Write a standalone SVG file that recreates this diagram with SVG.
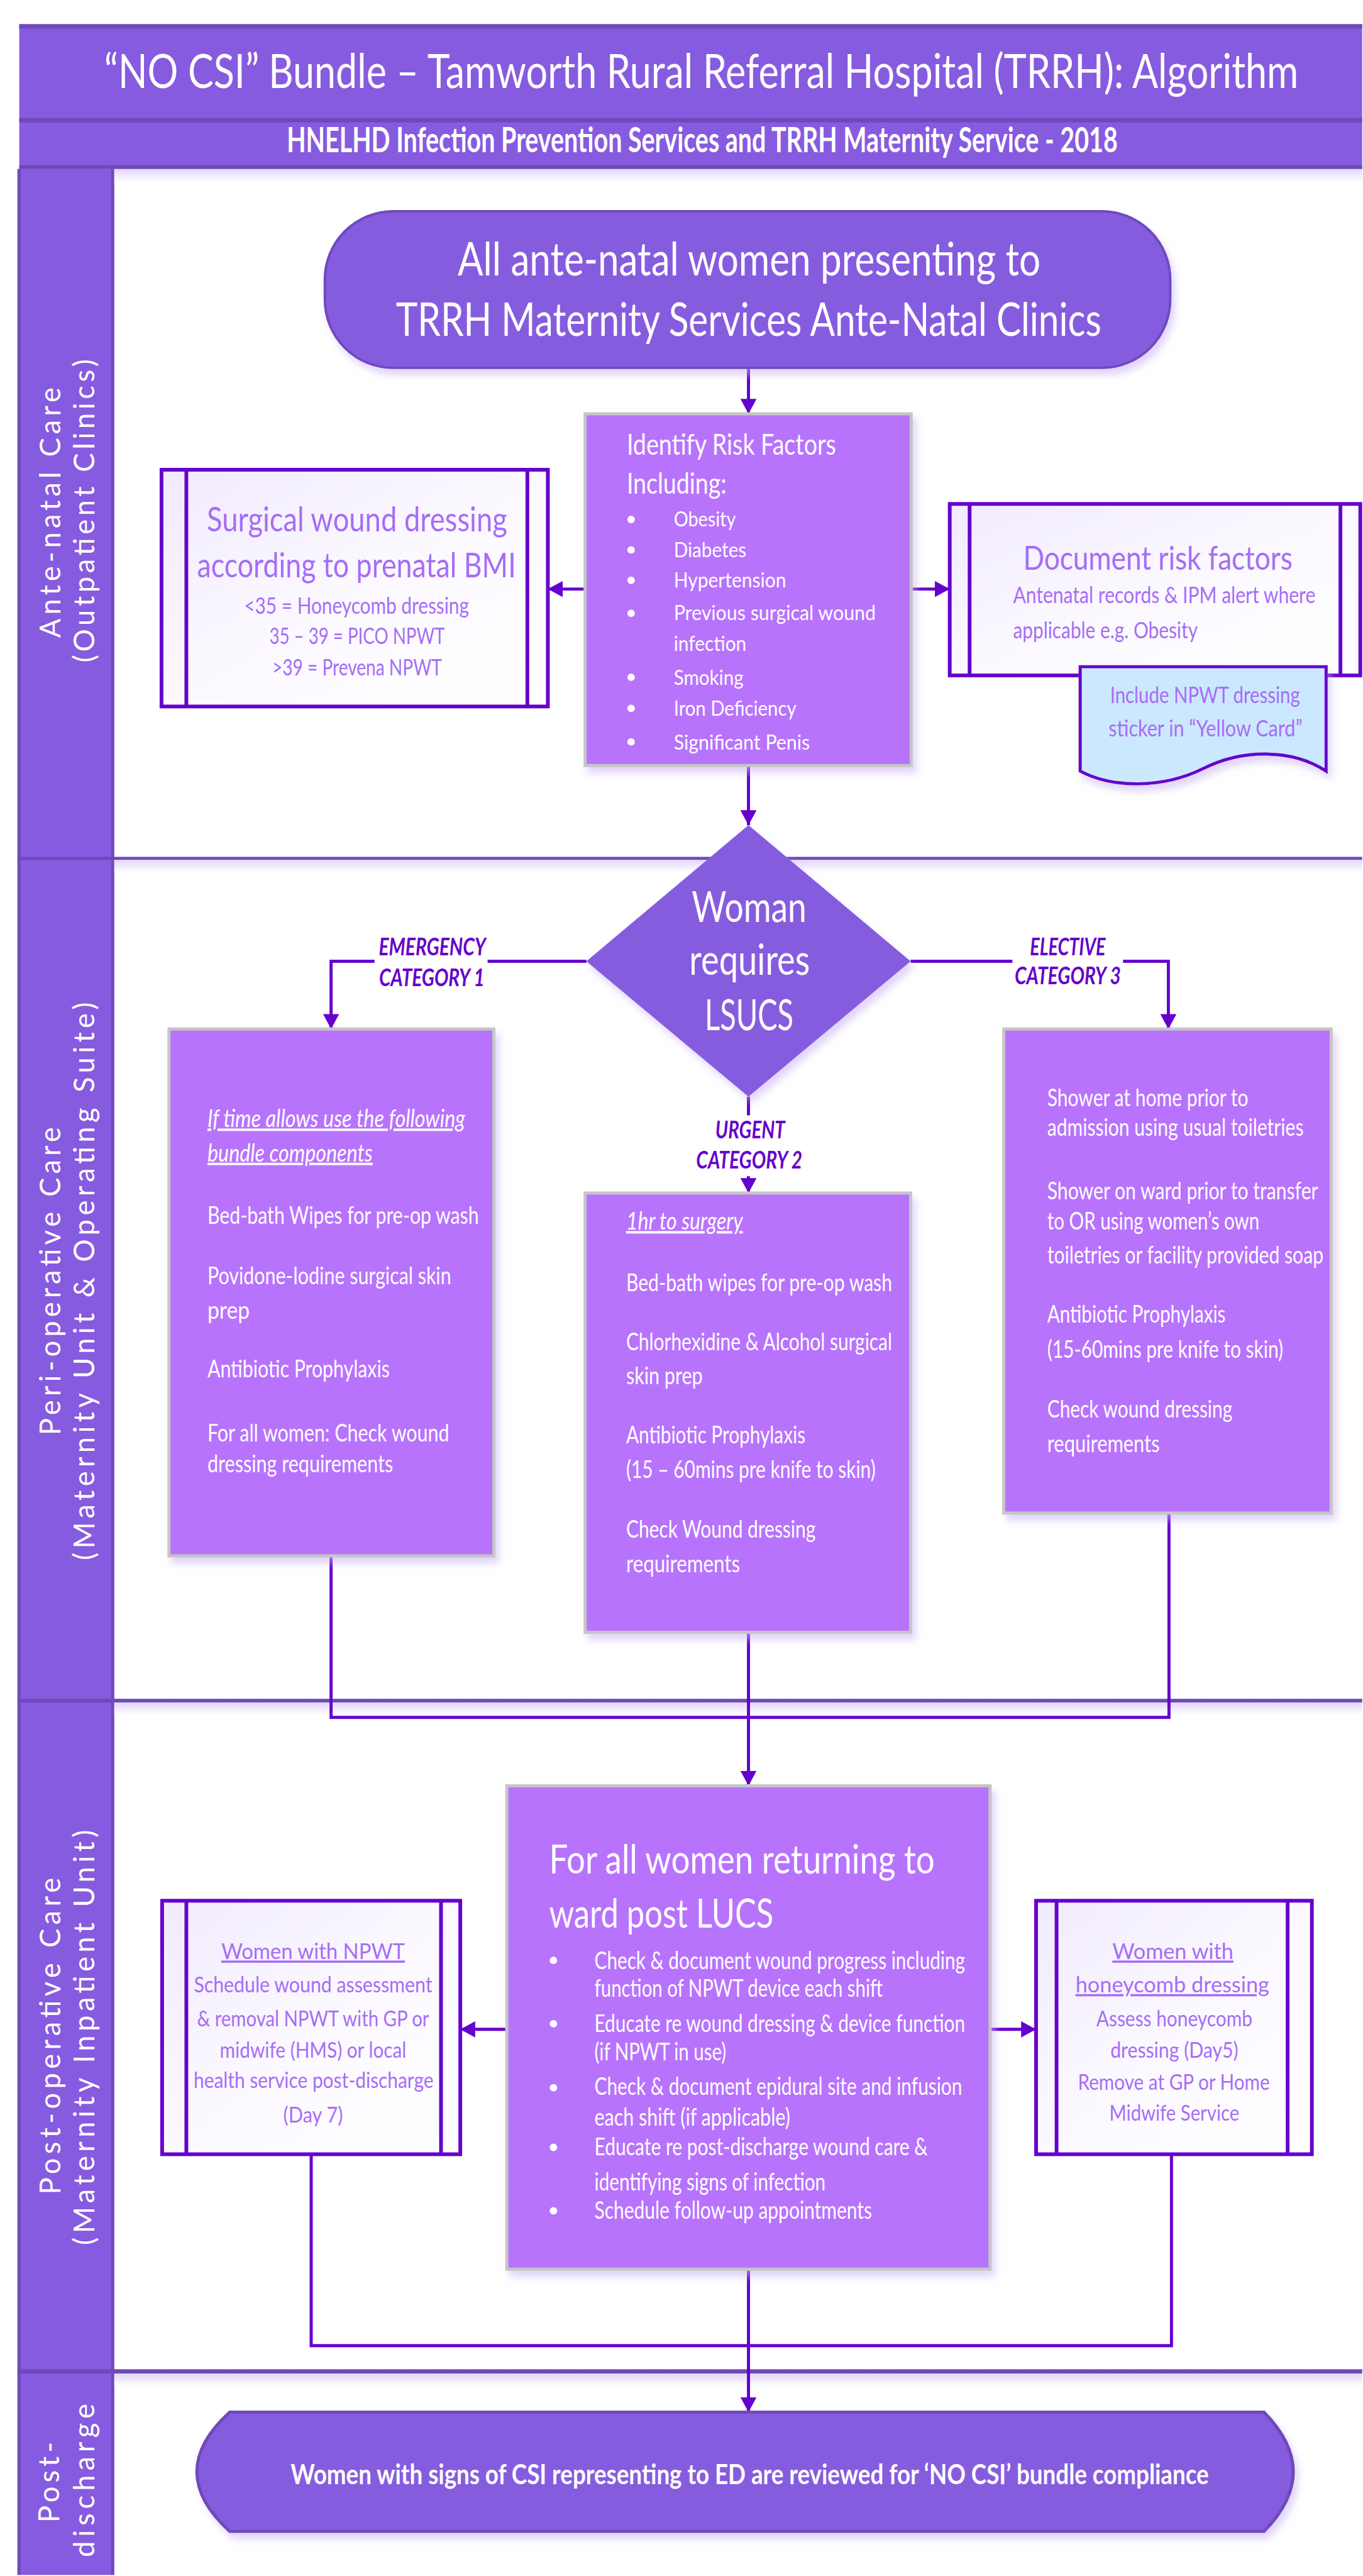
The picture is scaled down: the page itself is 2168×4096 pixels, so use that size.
<svg xmlns="http://www.w3.org/2000/svg" width="2168" height="4096" viewBox="0 0 2168 4096">
<style>
text{font-family:Lato,"Open Sans","Liberation Sans",sans-serif}
.w{fill:#ffffff}
.p{fill:#A66DF7}
.lab{fill:#6600CC;font-weight:700;font-style:italic;font-size:38px}
.lane{fill:#ffffff;font-size:46px}
.proc{fill:#B873FD;stroke:#C6C6C6;stroke-width:5}
.sub{fill:url(#subg);stroke:#6600CC;stroke-width:6}
.subl{stroke:#6600CC;stroke-width:6}
.con{fill:none;stroke:#6600CC;stroke-width:5}
.div{fill:#6F49B8}
.hdr{fill:#865BDF}
.u{text-decoration:underline}
</style>
<defs>
<marker id="arr" viewBox="0 0 24 26" refX="24" refY="13" markerWidth="24" markerHeight="26" markerUnits="userSpaceOnUse" orient="auto"><path d="M0,0 L24,13 L0,26 Z" fill="#6600CC"/></marker>
<linearGradient id="subg" x1="0" y1="0" x2="1" y2="1"><stop offset="0" stop-color="#F1EAFD"/><stop offset="0.5" stop-color="#FBF9FF"/><stop offset="1" stop-color="#FFFFFF"/></linearGradient>
<linearGradient id="shd" x1="0" y1="0" x2="0" y2="1"><stop offset="0" stop-color="#E3D6FB"/><stop offset="1" stop-color="#FFFFFF"/></linearGradient>
<filter id="sh" x="-10%" y="-10%" width="125%" height="125%"><feDropShadow dx="6" dy="10" stdDeviation="6" flood-color="#C9B3F5" flood-opacity="0.55"/></filter>
</defs>
<g transform="scale(0.988)">
<rect x="0" y="0" width="2193" height="4144" fill="#ffffff"/>

<g id="frame">
<rect class="hdr" x="31" y="39" width="2162" height="233"/>
<rect class="div" x="31" y="39" width="2162" height="7"/>
<rect class="div" x="31" y="190" width="2162" height="7"/>
<rect class="div" x="31" y="266" width="2162" height="6"/>
<g transform="matrix(0.78,0,0,1,1129,0)" text-anchor="middle" class="w">
<text x="0" y="142" font-size="77" textLength="2465" lengthAdjust="spacingAndGlyphs">“NO CSI” Bundle – Tamworth Rural Referral Hospital (TRRH): Algorithm</text>
<text x="2" y="245" font-size="56" font-weight="700" textLength="1715" lengthAdjust="spacingAndGlyphs">HNELHD Infection Prevention Services and TRRH Maternity Service - 2018</text>
</g>
</g>

<g id="lanes">
<rect class="hdr" x="31" y="272" width="152" height="3872"/>
<rect class="div" x="28" y="272" width="5" height="3872"/>
<rect class="div" x="179" y="272" width="5" height="3872"/>
<rect x="184" y="272" width="2009" height="22" fill="url(#shd)"/>
<rect class="div" x="31" y="1379" width="2162" height="5"/>
<rect x="184" y="1384" width="2009" height="20" fill="url(#shd)"/>
<rect class="div" x="31" y="2734" width="2162" height="6"/>
<rect x="184" y="2740" width="2009" height="20" fill="url(#shd)"/>
<rect class="div" x="31" y="3813" width="2162" height="7"/>
<rect x="184" y="3820" width="2009" height="20" fill="url(#shd)"/>
<text class="lane" transform="translate(97,825) rotate(-90)" text-anchor="middle" textLength="403" lengthAdjust="spacing">Ante-natal Care</text>
<text class="lane" transform="translate(152,822) rotate(-90)" text-anchor="middle" textLength="488" lengthAdjust="spacing">(Outpatient Clinics)</text>
<text class="lane" transform="translate(97,2062) rotate(-90)" text-anchor="middle" textLength="496" lengthAdjust="spacing">Peri-operative Care</text>
<text class="lane" transform="translate(152,2062) rotate(-90)" text-anchor="middle" textLength="898" lengthAdjust="spacing">(Maternity Unit &amp; Operating Suite)</text>
<text class="lane" transform="translate(97,3277) rotate(-90)" text-anchor="middle" textLength="510" lengthAdjust="spacing">Post-operative Care</text>
<text class="lane" transform="translate(152,3279) rotate(-90)" text-anchor="middle" textLength="668" lengthAdjust="spacing">(Maternity Inpatient Unit)</text>
<text class="lane" transform="translate(95,3995) rotate(-90)" text-anchor="middle" textLength="130" lengthAdjust="spacing">Post-</text>
<text class="lane" transform="translate(152,3992) rotate(-90)" text-anchor="middle" textLength="247" lengthAdjust="spacing">discharge</text>
</g>

<g id="connectors">
<path class="con" d="M1205,592 V666" marker-end="url(#arr)"/>
<path class="con" d="M942,948 H882" marker-end="url(#arr)"/>
<path class="con" d="M1467,948 H1529" marker-end="url(#arr)"/>
<path class="con" d="M1205,1232 V1328" marker-end="url(#arr)"/>
<path class="con" d="M944,1547 H533 V1656" marker-end="url(#arr)"/>
<path class="con" d="M1466,1547 H1881 V1656" marker-end="url(#arr)"/>
<path class="con" d="M1205,1765 V1920" marker-end="url(#arr)"/>
<path class="con" d="M533,2504 V2764 H1882 V2435"/>
<path class="con" d="M1205,2627 V2874" marker-end="url(#arr)"/>
<path class="con" d="M816,3266 H741" marker-end="url(#arr)"/>
<path class="con" d="M1594,3266 H1668" marker-end="url(#arr)"/>
<path class="con" d="M501,3467 V3775 H1886 V3467"/>
<path class="con" d="M1205,3652 V3882" marker-end="url(#arr)"/>
<rect x="603" y="1500" width="182" height="98" fill="#ffffff"/>
<rect x="1630" y="1500" width="178" height="98" fill="#ffffff"/>
<rect x="1116" y="1795" width="180" height="98" fill="#ffffff"/>
<g transform="matrix(0.78,0,0,1,696,0)" text-anchor="middle">
<text class="lab" x="0" y="1537" textLength="221" lengthAdjust="spacingAndGlyphs">EMERGENCY</text>
<text class="lab" x="-1" y="1587" textLength="218" lengthAdjust="spacingAndGlyphs">CATEGORY 1</text>
</g>
<g transform="matrix(0.78,0,0,1,1719,0)" text-anchor="middle">
<text class="lab" x="0" y="1537" textLength="156" lengthAdjust="spacingAndGlyphs">ELECTIVE</text>
<text class="lab" x="0" y="1584" textLength="219" lengthAdjust="spacingAndGlyphs">CATEGORY 3</text>
</g>
<g transform="matrix(0.78,0,0,1,1207,0)" text-anchor="middle">
<text class="lab" x="1" y="1832" textLength="144" lengthAdjust="spacingAndGlyphs">URGENT</text>
<text class="lab" x="-1" y="1881" textLength="219" lengthAdjust="spacingAndGlyphs">CATEGORY 2</text>
</g>
</g>

<g id="start">
<rect x="523" y="340" width="1361" height="252" rx="110" class="hdr" stroke="#7048C0" stroke-width="4" filter="url(#sh)"/>
<g transform="matrix(0.78,0,0,1,1206,0)" text-anchor="middle" class="w" font-size="75">
<text x="0" y="443" textLength="1203" lengthAdjust="spacingAndGlyphs">All ante-natal women presenting to</text>
<text x="-1" y="540" textLength="1456" lengthAdjust="spacingAndGlyphs">TRRH Maternity Services Ante-Natal Clinics</text>
</g>
</g>

<g id="risk">
<rect class="proc" x="942" y="666" width="525" height="566" filter="url(#sh)"/>
<g class="w">
<circle cx="1016" cy="836" r="6"/><circle cx="1016" cy="885" r="6"/><circle cx="1016" cy="934" r="6"/><circle cx="1016" cy="987" r="6"/><circle cx="1016" cy="1090" r="6"/><circle cx="1016" cy="1140" r="6"/><circle cx="1016" cy="1194" r="6"/>
</g>
<g transform="matrix(0.78,0,0,1,1009,0)" class="w">
<text x="0" y="732" font-size="46" textLength="432" lengthAdjust="spacingAndGlyphs">Identify Risk Factors</text>
<text x="0" y="795" font-size="46" textLength="206" lengthAdjust="spacingAndGlyphs">Including:</text>
<g font-size="34">
<text x="97" y="847" textLength="128" lengthAdjust="spacingAndGlyphs">Obesity</text>
<text x="97" y="897" textLength="150" lengthAdjust="spacingAndGlyphs">Diabetes</text>
<text x="97" y="945" textLength="232" lengthAdjust="spacingAndGlyphs">Hypertension</text>
<text x="97" y="998" textLength="417" lengthAdjust="spacingAndGlyphs">Previous surgical wound</text>
<text x="97" y="1048" textLength="150" lengthAdjust="spacingAndGlyphs">infection</text>
<text x="97" y="1102" textLength="144" lengthAdjust="spacingAndGlyphs">Smoking</text>
<text x="97" y="1152" textLength="253" lengthAdjust="spacingAndGlyphs">Iron Deficiency</text>
<text x="97" y="1206" textLength="281" lengthAdjust="spacingAndGlyphs">Significant Penis</text>
</g>
</g>
</g>

<g id="surgical">
<rect class="sub" x="260" y="756" width="622" height="381"/>
<line class="subl" x1="300" y1="756" x2="300" y2="1137"/>
<line class="subl" x1="849" y1="756" x2="849" y2="1137"/>
<g transform="matrix(0.78,0,0,1,574,0)" class="p" text-anchor="middle">
<text x="1" y="855" font-size="54" textLength="620" lengthAdjust="spacingAndGlyphs">Surgical wound dressing</text>
<text x="0" y="929" font-size="54" textLength="658" lengthAdjust="spacingAndGlyphs">according to prenatal BMI</text>
<text x="0" y="988" font-size="38" textLength="464" lengthAdjust="spacingAndGlyphs">&lt;35 = Honeycomb dressing</text>
<text x="1" y="1036" font-size="38" textLength="362" lengthAdjust="spacingAndGlyphs">35 – 39 = PICO NPWT</text>
<text x="1" y="1087" font-size="38" textLength="350" lengthAdjust="spacingAndGlyphs">&gt;39 = Prevena NPWT</text>
</g>
</g>

<g id="document">
<rect class="sub" x="1529" y="811" width="661" height="276"/>
<line class="subl" x1="1561" y1="811" x2="1561" y2="1087"/>
<line class="subl" x1="2158" y1="811" x2="2158" y2="1087"/>
<g transform="matrix(0.78,0,0,1,1864,0)" class="p" text-anchor="middle">
<text x="0" y="917" font-size="52" textLength="556" lengthAdjust="spacingAndGlyphs">Document risk factors</text>
</g>
<g transform="matrix(0.78,0,0,1,1631,0)" class="p" font-size="38">
<text x="0" y="971" textLength="624" lengthAdjust="spacingAndGlyphs">Antenatal records &amp; IPM alert where</text>
<text x="0" y="1027" textLength="381" lengthAdjust="spacingAndGlyphs">applicable e.g. Obesity</text>
</g>
</g>

<g id="sticker">
<path d="M1739,1073 H2135 V1241 C2080,1205 2000,1205 1937,1237 C1870,1270 1790,1268 1739,1241 Z" fill="#CCE8FF" stroke="#6600CC" stroke-width="5" filter="url(#sh)"/>
<g transform="matrix(0.78,0,0,1,1940,0)" class="p" text-anchor="middle" font-size="38">
<text x="0" y="1132" textLength="392" lengthAdjust="spacingAndGlyphs">Include NPWT dressing</text>
<text x="1" y="1185" textLength="400" lengthAdjust="spacingAndGlyphs">sticker in “Yellow Card”</text>
</g>
</g>

<g id="decision">
<polygon points="1205,1328 1466,1547 1205,1765 944,1547" class="hdr" filter="url(#sh)"/>
<g transform="matrix(0.78,0,0,1,1206,0)" class="w" font-size="68" text-anchor="middle">
<text x="0" y="1484" textLength="237" lengthAdjust="spacingAndGlyphs">Woman</text>
<text x="1" y="1569" textLength="249" lengthAdjust="spacingAndGlyphs">requires</text>
<text x="0" y="1658" textLength="183" lengthAdjust="spacingAndGlyphs">LSUCS</text>
</g>
</g>

<g id="emergency">
<rect class="proc" x="272" y="1656" width="523" height="848" filter="url(#sh)"/>
<g transform="matrix(0.78,0,0,1,334,0)" class="w" font-size="39">
<text x="0" y="1814" font-style="italic" class="u" textLength="532" lengthAdjust="spacingAndGlyphs">If time allows use the following</text>
<text x="0" y="1869" font-style="italic" class="u" textLength="341" lengthAdjust="spacingAndGlyphs">bundle components</text>
<text x="0" y="1970" textLength="560" lengthAdjust="spacingAndGlyphs">Bed-bath Wipes for pre-op wash</text>
<text x="0" y="2067" textLength="503" lengthAdjust="spacingAndGlyphs">Povidone-Iodine surgical skin</text>
<text x="0" y="2122" textLength="87" lengthAdjust="spacingAndGlyphs">prep</text>
<text x="0" y="2217" textLength="376" lengthAdjust="spacingAndGlyphs">Antibiotic Prophylaxis</text>
<text x="0" y="2320" textLength="499" lengthAdjust="spacingAndGlyphs">For all women: Check wound</text>
<text x="0" y="2369" textLength="383" lengthAdjust="spacingAndGlyphs">dressing requirements</text>
</g>
</g>

<g id="urgent">
<rect class="proc" x="942" y="1920" width="524" height="707" filter="url(#sh)"/>
<g transform="matrix(0.78,0,0,1,1008,0)" class="w" font-size="39">
<text x="0" y="1979" font-style="italic" class="u" textLength="241" lengthAdjust="spacingAndGlyphs">1hr to surgery</text>
<text x="0" y="2078" textLength="549" lengthAdjust="spacingAndGlyphs">Bed-bath wipes for pre-op wash</text>
<text x="0" y="2173" textLength="549" lengthAdjust="spacingAndGlyphs">Chlorhexidine &amp; Alcohol surgical</text>
<text x="0" y="2228" textLength="158" lengthAdjust="spacingAndGlyphs">skin prep</text>
<text x="0" y="2323" textLength="370" lengthAdjust="spacingAndGlyphs">Antibiotic Prophylaxis</text>
<text x="0" y="2379" textLength="515" lengthAdjust="spacingAndGlyphs">(15 – 60mins pre knife to skin)</text>
<text x="0" y="2475" textLength="391" lengthAdjust="spacingAndGlyphs">Check Wound dressing</text>
<text x="0" y="2530" textLength="235" lengthAdjust="spacingAndGlyphs">requirements</text>
</g>
</g>

<g id="elective">
<rect class="proc" x="1616" y="1656" width="527" height="779" filter="url(#sh)"/>
<g transform="matrix(0.78,0,0,1,1686,0)" class="w" font-size="39">
<text x="0" y="1780" textLength="415" lengthAdjust="spacingAndGlyphs">Shower at home prior to</text>
<text x="0" y="1828" textLength="529" lengthAdjust="spacingAndGlyphs">admission using usual toiletries</text>
<text x="0" y="1930" textLength="559" lengthAdjust="spacingAndGlyphs">Shower on ward prior to transfer</text>
<text x="0" y="1979" textLength="438" lengthAdjust="spacingAndGlyphs">to OR using women’s own</text>
<text x="0" y="2033" textLength="570" lengthAdjust="spacingAndGlyphs">toiletries or facility provided soap</text>
<text x="0" y="2129" textLength="368" lengthAdjust="spacingAndGlyphs">Antibiotic Prophylaxis</text>
<text x="0" y="2185" textLength="487" lengthAdjust="spacingAndGlyphs">(15-60mins pre knife to skin)</text>
<text x="0" y="2281" textLength="382" lengthAdjust="spacingAndGlyphs">Check wound dressing</text>
<text x="0" y="2337" textLength="232" lengthAdjust="spacingAndGlyphs">requirements</text>
</g>
</g>

<g id="lucs">
<rect class="proc" x="816" y="2874" width="778" height="778" filter="url(#sh)"/>
<g class="w">
<circle cx="891" cy="3155" r="6"/><circle cx="891" cy="3257" r="6"/><circle cx="891" cy="3360" r="6"/><circle cx="891" cy="3456" r="6"/><circle cx="891" cy="3558" r="6"/>
</g>
<g transform="matrix(0.78,0,0,1,884,0)" class="w" font-size="64">
<text x="0" y="3015" textLength="796" lengthAdjust="spacingAndGlyphs">For all women returning to</text>
<text x="0" y="3102" textLength="463" lengthAdjust="spacingAndGlyphs">ward post LUCS</text>
</g>
<g transform="matrix(0.78,0,0,1,957,0)" class="w" font-size="40">
<text x="0" y="3169" textLength="765" lengthAdjust="spacingAndGlyphs">Check &amp; document wound progress including</text>
<text x="0" y="3214" textLength="595" lengthAdjust="spacingAndGlyphs">function of NPWT device each shift</text>
<text x="0" y="3270" textLength="765" lengthAdjust="spacingAndGlyphs">Educate re wound dressing &amp; device function</text>
<text x="0" y="3316" textLength="272" lengthAdjust="spacingAndGlyphs">(if NPWT in use)</text>
<text x="0" y="3371" textLength="759" lengthAdjust="spacingAndGlyphs">Check &amp; document epidural site and infusion</text>
<text x="0" y="3421" textLength="404" lengthAdjust="spacingAndGlyphs">each shift (if applicable)</text>
<text x="0" y="3469" textLength="688" lengthAdjust="spacingAndGlyphs">Educate re post-discharge wound care &amp;</text>
<text x="0" y="3525" textLength="477" lengthAdjust="spacingAndGlyphs">identifying signs of infection</text>
<text x="0" y="3571" textLength="573" lengthAdjust="spacingAndGlyphs">Schedule follow-up appointments</text>
</g>
</g>

<g id="npwt">
<rect class="sub" x="261" y="3059" width="480" height="408"/>
<line class="subl" x1="300" y1="3059" x2="300" y2="3467"/>
<line class="subl" x1="710" y1="3059" x2="710" y2="3467"/>
<g transform="matrix(0.78,0,0,1,504,0)" class="p" font-size="36" text-anchor="middle">
<text x="0" y="3153" class="u" textLength="379" lengthAdjust="spacingAndGlyphs">Women with NPWT</text>
<text x="0" y="3207" textLength="492" lengthAdjust="spacingAndGlyphs">Schedule wound assessment</text>
<text x="0" y="3261" textLength="479" lengthAdjust="spacingAndGlyphs">&amp; removal NPWT with GP or</text>
<text x="0" y="3312" textLength="385" lengthAdjust="spacingAndGlyphs">midwife (HMS) or local</text>
<text x="1" y="3360" textLength="495" lengthAdjust="spacingAndGlyphs">health service post-discharge</text>
<text x="0" y="3416" textLength="123" lengthAdjust="spacingAndGlyphs">(Day 7)</text>
</g>
</g>

<g id="honeycomb">
<rect class="sub" x="1668" y="3059" width="444" height="408"/>
<line class="subl" x1="1701" y1="3059" x2="1701" y2="3467"/>
<line class="subl" x1="2073" y1="3059" x2="2073" y2="3467"/>
<g transform="matrix(0.78,0,0,1,1889,0)" class="p" font-size="36" text-anchor="middle">
<text x="-1" y="3153" class="u" textLength="250" lengthAdjust="spacingAndGlyphs">Women with</text>
<text x="-2" y="3207" class="u" textLength="400" lengthAdjust="spacingAndGlyphs">honeycomb dressing</text>
<text x="2" y="3261" textLength="322" lengthAdjust="spacingAndGlyphs">Assess honeycomb</text>
<text x="2" y="3312" textLength="264" lengthAdjust="spacingAndGlyphs">dressing (Day5)</text>
<text x="1" y="3363" textLength="396" lengthAdjust="spacingAndGlyphs">Remove at GP or Home</text>
<text x="2" y="3413" textLength="268" lengthAdjust="spacingAndGlyphs">Midwife Service</text>
</g>
</g>

<g id="end">
<path d="M370,3882 H2035 Q2129,3978 2035,4074 H370 Q264,3978 370,3882 Z" class="hdr" stroke="#6F49B8" stroke-width="5" filter="url(#sh)"/>
<g transform="matrix(0.78,0,0,1,1207,0)" class="w" text-anchor="middle">
<text x="0" y="3998" font-size="45" font-weight="700" textLength="1895" lengthAdjust="spacingAndGlyphs">Women with signs of CSI representing to ED are reviewed for ‘NO CSI’ bundle compliance</text>
</g>
</g>
</g>
</svg>
